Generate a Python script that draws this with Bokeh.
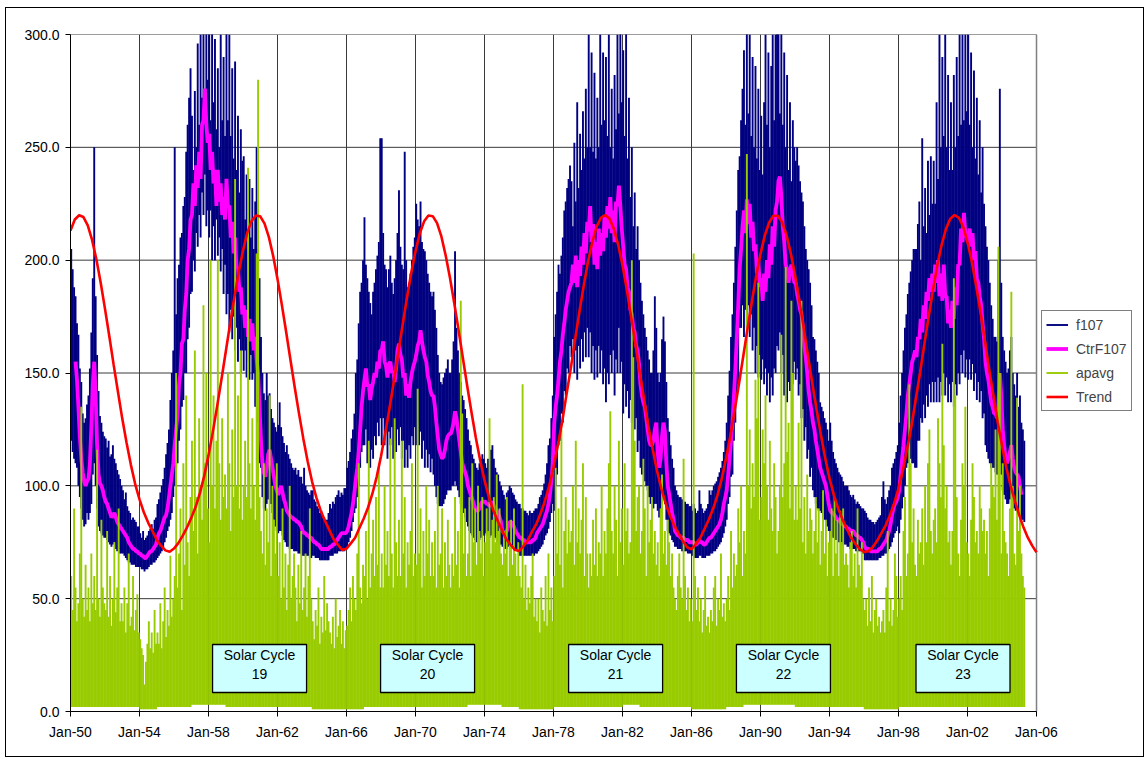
import numpy as np
from bokeh.plotting import figure
from bokeh.models import (ColumnDataSource, FixedTicker, PrintfTickFormatter,
                          Legend, LegendItem, Range1d)
from bokeh.embed import file_html
from bokeh.resources import INLINE
from bokeh.core.properties import value

# ---------------- axis ticks ----------------
tick_years = [1950, 1954, 1958, 1962, 1966, 1970, 1974, 1978, 1982, 1986, 1990, 1994, 1998, 2002, 2006]
tick_labels = ["Jan-50", "Jan-54", "Jan-58", "Jan-62", "Jan-66", "Jan-70", "Jan-74", "Jan-78",
               "Jan-82", "Jan-86", "Jan-90", "Jan-94", "Jan-98", "Jan-02", "Jan-06"]
y_ticks = [0, 50, 100, 150, 200, 250, 300]

# ---------------- series (monthly, Jan 1950 .. Apr 2005) ----------------
# f107: monthly upper / lower envelope of the daily values
f107_max = [
    205,196,188,184,172,167,152,146,132,128,130,136,
    140,152,168,192,250,184,158,142,131,128,124,122,
    121,117,120,113,114,118,112,110,107,105,103,100,
    98,94,97,91,89,88,85,86,85,84,82,82,
    79,77,80,76,77,78,80,81,83,81,85,86,
    92,94,97,100,103,108,114,119,125,138,150,160,
    250,176,192,198,210,212,224,228,248,260,272,285,
    264,240,275,250,296,260,300,272,305,268,310,280,
    305,262,310,270,298,258,285,250,300,262,290,255,
    310,262,300,255,285,245,288,240,264,230,258,244,
    246,218,238,212,236,210,232,205,226,250,205,192,
    166,150,141,138,150,140,141,134,130,128,126,124,
    127,137,126,122,119,115,118,114,112,110,108,107,
    108,105,107,104,104,101,108,100,98,97,96,98,
    98,94,93,91,90,88,89,87,86,85,85,88,
    92,90,93,92,95,96,98,95,97,96,99,99,
    108,111,115,121,125,132,150,156,172,186,190,200,
    219,198,192,186,181,176,186,190,196,202,208,254,
    254,212,198,196,188,196,202,190,185,192,200,212,
    231,206,198,196,248,200,188,190,194,200,206,210,
    225,218,215,226,208,205,204,200,194,190,186,184,
    186,178,170,158,150,146,145,148,150,152,156,150,
    150,156,164,204,170,160,150,146,140,138,134,130,
    125,120,118,114,112,110,108,107,110,112,114,112,
    110,108,112,110,116,118,112,108,106,105,102,100,
    98,96,94,97,98,100,99,97,96,94,93,92,
    92,90,90,89,89,88,87,89,88,88,89,90,
    90,92,95,96,98,101,105,110,118,121,130,140,
    166,176,186,198,194,202,210,222,226,232,236,242,
    235,215,252,226,270,232,256,240,266,245,276,250,
    300,250,292,248,283,245,272,250,300,260,292,262,
    290,255,300,250,276,245,282,258,300,265,310,270,
    293,255,302,245,272,228,250,215,230,205,215,200,
    190,182,176,170,166,160,156,150,150,160,184,170,
    150,146,150,165,175,164,146,130,124,118,112,108,
    100,98,96,95,95,94,93,93,92,92,91,91,
    89,92,90,88,89,98,92,90,88,89,90,92,
    98,96,98,100,101,102,104,106,108,111,115,120,
    128,140,151,166,176,190,206,222,240,246,262,276,
    293,260,310,265,300,255,290,250,286,245,276,240,
    264,238,270,300,260,292,250,286,300,262,300,310,
    310,265,302,260,292,250,282,240,270,235,262,250,
    244,250,242,235,230,226,215,205,200,196,190,180,
    166,165,160,155,150,137,135,133,130,128,125,120,
    128,120,115,112,110,108,106,105,104,102,100,100,
    100,98,96,95,96,94,92,93,92,91,90,90,
    89,88,86,85,85,84,84,83,84,85,86,87,
    95,102,94,92,95,98,100,108,110,112,115,118,
    128,140,150,160,170,176,185,190,195,200,205,205,
    205,216,226,200,254,215,232,212,244,220,246,225,
    244,225,270,236,300,250,290,255,300,250,282,240,
    270,240,282,250,290,255,300,260,300,262,300,266,
    300,260,292,250,284,245,272,238,262,230,250,225,
    215,206,200,190,180,174,166,166,164,200,276,190,
    166,160,155,150,152,160,166,150,145,140,150,135,
    140,128,125,120,
]
f107_min = [
    120,115,112,110,108,100,95,90,85,82,83,88,
    85,88,92,105,110,100,90,82,80,79,78,77,
    77,76,75,74,73,74,75,72,71,72,70,70,
    70,69,68,67,66,66,65,65,65,64,64,64,
    64,63,63,62,63,63,64,65,65,66,66,67,
    68,69,70,71,72,75,77,80,82,85,88,95,
    100,108,110,120,125,135,138,150,150,165,170,185,
    186,200,195,212,206,220,210,230,220,238,215,222,
    210,222,200,215,200,218,202,210,195,205,185,198,
    176,185,168,178,165,175,160,170,155,165,150,160,
    151,160,148,155,147,158,147,150,135,142,128,110,
    108,95,90,89,92,94,94,92,88,85,82,80,
    79,80,80,78,76,75,73,73,72,72,72,71,
    71,71,70,70,70,69,69,69,69,69,68,68,
    69,69,68,68,68,67,67,67,67,67,67,67,
    69,69,69,70,70,70,71,71,71,71,71,72,
    73,75,77,80,84,88,90,95,100,108,115,118,
    118,125,110,118,108,116,112,122,118,128,122,130,
    118,130,118,125,112,124,118,126,112,120,115,125,
    118,126,112,120,108,116,108,118,112,122,118,126,
    118,128,118,124,112,120,108,116,108,114,106,112,
    105,100,95,92,91,91,91,92,94,96,98,98,
    98,100,100,102,100,98,95,92,90,88,86,84,
    82,80,79,78,77,76,75,75,76,77,78,78,
    79,78,78,77,78,79,78,77,76,75,74,74,
    73,73,72,72,73,74,74,73,73,72,72,71,
    69,69,69,69,69,69,69,69,69,69,69,70,
    70,71,72,73,74,76,78,79,81,84,88,92,
    89,100,105,118,120,132,128,142,140,152,150,162,
    157,165,150,160,147,162,152,165,155,168,157,170,
    157,168,150,162,147,160,148,162,150,160,145,152,
    137,150,145,158,150,160,140,156,150,170,150,155,
    132,145,135,142,130,138,128,136,125,130,115,120,
    108,105,105,102,100,98,95,92,90,90,92,92,
    89,86,88,92,95,92,85,80,79,78,76,75,
    73,73,72,72,72,71,71,71,71,70,70,70,
    69,69,68,68,68,69,69,68,68,68,69,69,
    69,70,70,71,71,72,73,74,75,77,79,82,
    85,92,95,104,105,120,128,140,145,170,170,180,
    166,178,170,180,166,176,160,170,150,162,148,158,
    147,156,145,152,140,150,137,148,140,152,150,162,
    160,168,150,158,140,150,137,146,142,152,145,155,
    147,152,140,145,130,134,120,126,112,116,104,108,
    98,95,92,90,89,89,88,86,85,84,82,80,
    79,78,77,77,76,76,75,75,75,74,74,74,
    73,73,72,72,72,72,71,71,71,71,70,70,
    67,67,67,67,67,67,67,67,67,67,68,68,
    69,69,70,70,71,72,73,75,77,79,80,82,
    79,85,90,95,100,108,110,112,112,110,110,108,
    108,120,120,130,128,136,130,140,135,145,137,146,
    137,146,137,148,137,146,140,150,140,148,137,145,
    137,146,135,145,140,150,145,158,150,160,148,156,
    147,156,147,154,142,150,138,146,137,142,130,132,
    118,115,112,110,108,108,108,106,105,105,110,105,
    98,96,94,92,92,94,96,92,90,89,89,88,
    86,85,85,84,
]
# CtrF107: centred running mean (None where not defined)
ctr_f107 = [
    None,None,None,155,147,135,122,112,106,102,100,102,
    103,110,126,145,155,140,118,105,101,100,98,95,
    93,92,90,88,86,87,88,86,84,83,82,81,
    80,79,78,77,75,74,73,72,72,71,71,70,
    70,69,69,68,68,69,70,71,71,72,73,74,
    77,79,80,82,84,86,87,90,95,100,105,110,
    118,125,132,145,150,163,165,178,185,200,205,218,
    220,234,224,242,232,248,236,260,262,276,260,252,
    256,240,248,234,240,224,240,226,234,220,228,218,
    236,224,224,210,217,203,210,196,197,186,188,176,
    180,170,178,166,174,164,172,160,166,156,150,135,
    120,110,106,104,108,114,116,112,108,104,100,98,
    96,98,100,97,94,92,89,88,87,86,86,85,
    85,84,84,83,82,80,79,79,78,78,77,77,
    76,75,75,74,74,73,72,72,72,72,72,72,
    73,73,74,74,75,76,77,78,79,79,79,79,
    80,82,85,88,92,97,103,108,115,125,135,142,
    147,152,144,145,138,143,146,150,148,155,152,160,
    160,164,155,153,148,154,155,150,151,146,152,160,
    163,158,156,148,150,140,145,139,146,150,153,155,
    158,162,164,169,164,160,157,155,149,146,142,140,
    140,135,128,122,116,114,112,113,116,120,122,123,
    123,125,128,133,130,125,120,115,110,108,106,104,
    100,98,96,94,92,90,89,89,90,92,93,93,
    93,92,92,91,92,93,91,90,89,88,86,84,
    80,79,79,80,82,84,84,83,82,80,79,78,
    77,77,76,76,75,75,75,75,75,76,76,77,
    79,80,81,82,83,85,87,89,92,96,102,110,
    128,135,140,147,155,160,167,172,178,182,186,188,
    190,198,190,202,188,200,193,206,198,212,203,217,
    213,224,208,216,198,208,196,214,202,212,204,220,
    210,224,214,228,212,222,208,226,224,233,224,214,
    206,198,196,188,186,178,176,170,168,162,160,154,
    145,140,137,135,130,125,120,118,118,120,125,128,
    115,108,112,122,128,124,110,100,96,92,88,85,
    80,79,78,78,77,77,77,76,76,76,75,75,
    75,75,74,74,75,76,75,75,74,74,75,76,
    77,77,78,79,80,81,82,83,85,88,92,95,
    98,105,112,120,128,140,152,165,180,196,205,215,
    222,212,227,216,225,210,217,204,207,194,200,188,
    192,182,194,186,200,192,207,198,215,206,222,226,
    235,237,228,215,208,198,196,190,195,198,195,190,
    190,185,182,178,176,170,162,157,150,142,137,133,
    128,125,120,116,112,108,106,104,102,100,96,92,
    89,88,88,87,86,85,85,84,83,83,82,82,
    81,81,80,80,80,79,78,78,77,77,76,75,
    73,72,72,72,71,71,71,71,71,71,72,72,
    73,74,75,76,78,80,83,87,90,92,93,95,
    98,105,112,118,125,132,140,145,150,155,157,160,
    157,166,165,174,168,180,174,186,182,192,186,194,
    186,198,190,200,184,194,182,198,184,184,172,178,
    170,182,174,188,180,198,198,214,208,221,212,210,
    208,214,206,212,200,204,192,190,184,180,172,165,
    155,150,147,142,137,135,132,132,130,135,150,140,
    125,118,112,110,112,115,118,112,108,106,105,104,
    100,96,None,None,
]
# apavg: monthly peak of the daily values
apavg_max = [
    60,45,90,55,40,48,70,135,50,42,65,45,
    55,40,70,48,60,45,116,50,42,85,55,48,
    45,80,42,60,38,50,75,44,55,90,40,48,
    40,55,35,48,70,38,42,60,36,45,52,35,
    32,28,25,12,22,30,40,28,35,26,45,30,
    35,30,48,28,40,55,33,45,38,69,42,50,
    60,150,55,70,90,45,110,65,140,75,60,95,
    120,80,160,95,70,130,100,85,180,110,150,90,
    75,200,100,140,90,120,200,110,85,130,95,105,
    90,150,110,80,125,95,236,100,140,90,160,85,
    100,120,95,241,110,90,130,100,85,203,280,95,
    80,70,110,65,90,75,140,60,100,85,70,110,
    60,75,50,90,55,70,45,65,100,50,60,70,
    55,40,65,48,80,45,55,70,42,60,90,50,
    40,32,45,38,55,30,42,35,60,36,48,40,
    35,30,42,28,50,33,38,45,30,40,28,36,
    38,45,55,40,60,50,45,70,110,55,48,65,
    60,80,50,120,55,70,85,60,95,65,108,55,
    70,55,100,65,80,60,121,70,55,130,75,60,
    85,60,120,70,95,55,75,65,80,110,60,70,
    65,143,70,90,55,80,60,100,70,85,60,75,
    60,80,55,100,65,70,90,55,75,60,85,65,
    55,70,60,95,65,80,55,182,132,70,90,60,
    70,95,60,110,75,90,65,100,80,70,95,60,
    75,90,80,130,70,85,95,75,105,80,90,70,
    65,80,70,95,60,75,85,65,90,70,60,75,
    60,55,145,50,65,45,55,48,60,70,42,50,
    40,50,35,55,45,40,60,38,70,45,55,40,
    60,108,70,90,65,125,55,80,95,70,85,75,
    80,100,65,120,75,90,70,85,110,60,95,70,
    55,70,60,85,65,90,60,75,70,100,60,80,
    70,90,110,133,80,70,100,85,60,120,75,90,
    65,110,80,90,70,75,200,157,120,80,95,100,
    70,80,112,90,60,100,75,85,95,70,80,65,
    75,60,90,105,70,80,65,85,75,60,70,55,
    50,45,60,70,55,50,112,60,45,55,40,50,
    40,203,60,45,55,40,50,35,45,60,38,42,
    35,45,40,55,60,38,50,45,70,42,48,40,
    50,60,45,80,55,70,60,65,90,75,100,60,
    80,70,247,100,125,90,110,95,147,130,190,85,
    95,125,110,140,100,85,120,90,80,110,95,70,
    80,100,167,95,110,197,115,128,90,182,150,85,
    100,85,128,90,182,75,95,70,105,80,90,85,
    70,80,95,75,90,65,80,98,70,85,60,75,
    80,90,60,95,70,85,60,89,75,90,65,70,
    65,55,75,80,60,70,55,90,65,60,75,50,
    45,50,38,55,40,60,35,45,50,38,42,35,
    40,45,35,55,80,40,50,38,45,70,60,42,
    50,60,45,80,95,60,70,145,110,75,90,65,
    60,85,70,75,90,65,100,75,110,125,80,70,
    85,90,75,130,110,95,163,118,90,100,75,80,
    65,80,192,140,95,70,60,85,110,100,135,75,
    70,60,85,110,95,75,80,70,100,90,80,85,
    70,80,60,90,110,100,95,125,85,206,150,70,
    110,80,75,70,60,90,186,100,70,65,139,80,
    100,70,60,55,
]
# apavg: yearly quiet-day floor, 1950 .. 2005
apavg_floor = [2,2,2,2,1,2,2,3,3,2,2,2,2,2,1,1,1,2,2,2,2,2,2,3,3,2,1,1,
               2,2,2,2,3,2,2,2,1,1,2,3,3,3,2,2,2,2,1,1,2,2,2,2,2,2,2,2]

# Trend: quarterly, 1950.00 .. 2006.00
trend = [
    213.1,218.0,219.9,219.1, 215.4,209.0,200.4,190.0, 178.4,166.3,153.7,141.7,
    129.8,119.1,109.3,100.8, 94.0,88.3,83.7,80.0, 76.0,73.5,71.4,70.8,
    72.2,74.6,77.8,81.5, 85.8,90.6,96.8,104.3, 113.5,123.8,135.2,147.1,
    159.4,171.7,183.6,194.7, 204.3,212.2,217.4,219.8, 219.4,216.2,210.2,201.8,
    191.7,180.3,168.3,155.9, 143.6,131.9,120.8,110.8, 102.0,94.9,89.1,84.5,
    80.5,76.4,73.9,71.6, 72.1,74.5,77.0,81.3, 85.5,90.4,96.5,104.0,
    113.1,123.4,134.7,146.6, 158.9,171.2,183.1,194.3, 203.9,211.9,217.2,219.8,
    219.5,216.4,210.5,202.1, 192.1,180.8,168.8,156.4, 144.1,132.4,121.2,111.2,
    102.4,95.2,89.3,84.7, 80.6,76.5,74.0,71.7, 71.1,73.2,75.7,79.6,
    83.0,87.7,93.2,100.0, 108.1,117.9,128.2,140.3, 152.0,164.8,177.0,188.6,
    199.3,208.0,214.8,218.8, 220.0,218.4,213.8,206.8, 197.7,186.9,175.0,162.9,
    150.1,138.4,126.4,116.2, 106.7,98.8,92.2,86.9, 82.4,78.9,75.5,72.8,
    71.9,74.2,76.8,80.9, 85.0,89.8,95.7,103.1, 112.0,122.1,133.3,145.1,
    157.4,169.7,181.7,193.0, 202.8,211.0,216.7,219.7, 219.7,216.9,211.3,203.2,
    193.4,182.2,170.2,157.9, 145.6,133.8,122.6,112.3, 103.3,96.0,90.0,85.2,
    81.0,77.0,74.3,72.0, 70.7,71.0,72.8,75.5, 78.9,82.4,86.9,92.2,
    98.8,106.7,116.2,126.4, 138.4,150.1,162.9,175.0, 186.9,197.7,206.8,213.8,
    218.4,220.0,218.8,214.8, 208.0,199.3,188.6,177.0, 164.8,152.0,140.3,128.2,
    117.9,108.1,100.0,93.2, 87.0,81.5,77.0,73.5, 70.5,
]

cycle_numbers = ["19", "20", "21", "22", "23"]

# ---------------- layout / annotation placement (not data) ----------------
cycle_box_x = [1960.96, 1970.70, 1981.60, 1991.33, 2001.74]
cycle_box_y = 19.05
FONT = "Liberation Sans"
CANVAS_W, CANVAS_H = 1139, 750
BORDER_L, BORDER_R, BORDER_T, BORDER_B = 64, 1, 26, 47
PLOT_W = 966          # pixel width of the Jan-50 .. Jan-06 span
frame_w = CANVAS_W - BORDER_L - BORDER_R
x_start, x_last = tick_years[0], tick_years[-1]
x_end = x_start + (x_last - x_start) * frame_w / PLOT_W

n = len(f107_max)
month_x = 1950 + (np.arange(n) + 0.5) / 12.0
floor_m = [apavg_floor[i // 12] for i in range(n)]
ctr_arr = np.array([np.nan if v is None else v for v in ctr_f107], dtype=float)
trend_x = 1950 + np.arange(len(trend)) * 0.25

src = ColumnDataSource(dict(x=month_x, fmax=f107_max, fmin=f107_min, ctr=ctr_arr,
                            ap=apavg_max, apf=floor_m))

p = figure(width=CANVAS_W, height=CANVAS_H, output_backend="svg", toolbar_location=None,
           x_range=Range1d(x_start, x_end), y_range=Range1d(0, 300),
           min_border_left=BORDER_L, min_border_right=BORDER_R,
           min_border_top=BORDER_T, min_border_bottom=BORDER_B)
p.styles = {"border": "1px solid #000000", "margin-left": "5px", "margin-top": "7px"}
p.background_fill_color = "white"
p.border_fill_color = "white"
p.outline_line_color = None

p.xaxis.ticker = FixedTicker(ticks=tick_years)
p.xaxis.major_label_overrides = {t: l for t, l in zip(tick_years, tick_labels)}
p.xaxis.bounds = (x_start, x_last)
p.yaxis.ticker = FixedTicker(ticks=y_ticks)
p.yaxis.formatter = PrintfTickFormatter(format="%.1f")
for ax in (p.xaxis[0], p.yaxis[0]):
    ax.axis_line_color = "black"
    ax.axis_line_width = 1
    ax.major_tick_line_color = "black"
    ax.major_tick_in = 0
    ax.major_tick_out = 5
    ax.minor_tick_line_color = None
    ax.major_label_text_font = FONT
    ax.major_label_text_font_size = "14px"
    ax.major_label_text_color = "black"
p.xaxis.major_label_standoff = 7
p.yaxis.major_label_standoff = 6

GRID = "#3a3a3a"
p.xgrid.grid_line_color = GRID
p.xgrid.grid_line_width = 1
p.ygrid.visible = False
# horizontal grid lines limited to the Jan-50 .. Jan-06 span
p.segment(x0=[x_start] * len(y_ticks), x1=[x_last] * len(y_ticks), y0=y_ticks, y1=y_ticks,
          line_color=GRID, line_width=1)
# right border of the plot area
p.segment(x0=[x_last], x1=[x_last], y0=[y_ticks[0]], y1=[y_ticks[-1]],
          line_color="#808080", line_width=1.5)

r_f = p.segment(x0="x", y0="fmin", x1="x", y1="fmax", source=src,
                line_color="#000080", line_width=1.9)
r_c = p.line("x", "ctr", source=src, line_color="#FF00FF", line_width=3.8)
r_a = p.segment(x0="x", y0="apf", x1="x", y1="ap", source=src,
                line_color="#99CC00", line_width=1.9)
r_t = p.line(trend_x, trend, line_color="#FF0000", line_width=2.6)

# Solar cycle text boxes
p.rect(x=cycle_box_x, y=[cycle_box_y] * 5, width=94, height=48,
       width_units="screen", height_units="screen",
       fill_color="#CCFFFF", line_color="black", line_width=1.3)
p.text(x=cycle_box_x, y=[cycle_box_y] * 5, text=["Solar Cycle"] * 5, y_offset=-14,
       text_align="center", text_baseline="middle",
       text_font=value(FONT), text_font_size="14px", text_color="black")
p.text(x=cycle_box_x, y=[cycle_box_y] * 5, text=cycle_numbers, y_offset=5,
       text_align="center", text_baseline="middle",
       text_font=value(FONT), text_font_size="14px", text_color="black")

legend = Legend(items=[LegendItem(label="f107", renderers=[r_f]),
                       LegendItem(label="CtrF107", renderers=[r_c]),
                       LegendItem(label="apavg", renderers=[r_a]),
                       LegendItem(label="Trend", renderers=[r_t])],
                location=(PLOT_W + 5, 300))
legend.label_text_font = FONT
legend.label_text_font_size = "14px"
legend.glyph_width = 22
legend.glyph_height = 19
legend.label_height = 19
legend.spacing = 5
legend.padding = 4
legend.margin = 0
legend.label_standoff = 8
legend.border_line_color = "black"
legend.border_line_width = 1
legend.background_fill_color = "white"
legend.background_fill_alpha = 1
p.add_layout(legend)

open("out.html", "w").write(file_html(p, INLINE))
